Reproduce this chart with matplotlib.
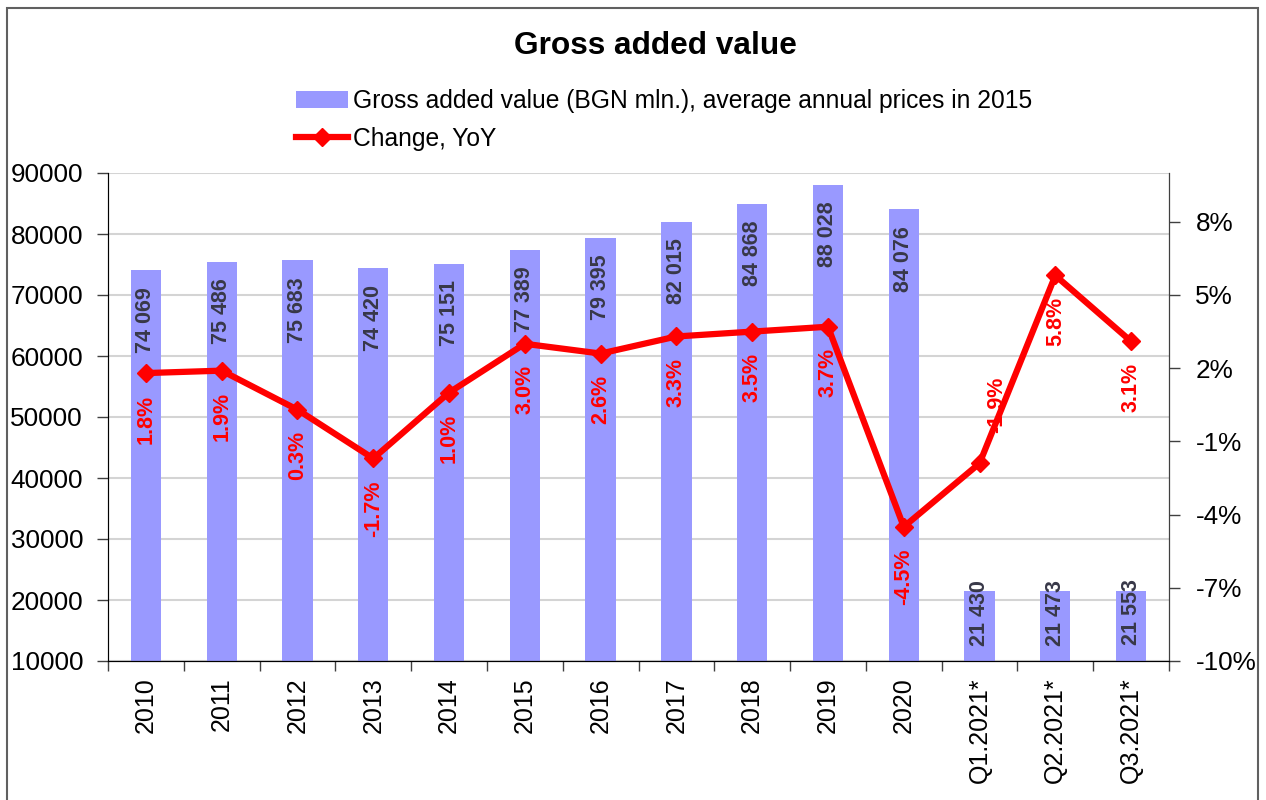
import matplotlib
matplotlib.use("Agg")
import matplotlib.pyplot as plt
from matplotlib.lines import Line2D
from matplotlib.patches import Patch, Rectangle
import numpy as np

plt.rcParams['font.family'] = ['Liberation Sans', 'DejaVu Sans']

categories = ["2010", "2011", "2012", "2013", "2014", "2015", "2016", "2017",
              "2018", "2019", "2020", "Q1.2021*", "Q2.2021*", "Q3.2021*"]
gva = [74069, 75486, 75683, 74420, 75151, 77389, 79395, 82015,
       84868, 88028, 84076, 21430, 21473, 21553]
gva_labels = ["74 069", "75 486", "75 683", "74 420", "75 151", "77 389", "79 395",
              "82 015", "84 868", "88 028", "84 076", "21 430", "21 473", "21 553"]
yoy = [1.8, 1.9, 0.3, -1.7, 1.0, 3.0, 2.6, 3.3, 3.5, 3.7, -4.5, -1.9, 5.8, 3.1]
yoy_labels = ["1.8%", "1.9%", "0.3%", "-1.7%", "1.0%", "3.0%", "2.6%", "3.3%",
              "3.5%", "3.7%", "-4.5%", "-1.9%", "5.8%", "3.1%"]
left_ticks = [10000, 20000, 30000, 40000, 50000, 60000, 70000, 80000, 90000]
right_ticks = [-10, -7, -4, -1, 2, 5, 8]

BAR_C = "#9999FF"
LINE_C = "#FF0000"

fig = plt.figure(figsize=(12.66, 8.0), dpi=100)
ax = fig.add_axes([108/1266, 1-661/800, (1169-108)/1266, (661-173)/800])
ax2 = ax.twinx()

x = np.arange(len(categories))
ax.bar(x, gva, width=0.4, color=BAR_C, zorder=2)
ax.set_ylim(10000, 90000)
ax.set_xlim(-0.5, len(categories) - 0.5)
ax.set_yticks(left_ticks)
ax.set_yticklabels([str(v) for v in left_ticks], fontsize=18.8)
ax.yaxis.grid(True, color="#D4D4D4", linewidth=1.5, zorder=0)
ax.set_axisbelow(True)
ax.tick_params(axis='y', direction='out', length=8, width=1, pad=10, colors='#404040', labelcolor='black')

ax.set_xticks(x)
ax.set_xticklabels(categories, rotation=90, fontsize=18)
ax.tick_params(axis='x', which='major', length=0, pad=12)
ax.set_xticks(np.arange(-0.5, len(categories), 1.0), minor=True)
ax.tick_params(axis='x', which='minor', direction='out', length=7, width=1, color='#404040')

for s in ['top']:
    ax.spines[s].set_visible(False)
    ax2.spines[s].set_visible(False)
ax.spines['left'].set_color('#404040')
ax2.spines['right'].set_color('#404040')
ax.spines['bottom'].set_color('black')
ax.spines['bottom'].set_zorder(5)

for i, (v, lab) in enumerate(zip(gva, gva_labels)):
    off = 8 if v < 30000 else -12
    ax.annotate(lab, (i, v), xytext=(0, off), textcoords='offset points',
                rotation=90, ha='center', va='top', fontsize=15.5, fontweight='bold',
                color='#383848', zorder=4)

ax2.plot(x, yoy, color=LINE_C, linewidth=4.5, marker='D', markersize=9.5,
         markeredgecolor=LINE_C, zorder=6)
ax2.set_ylim(-10, 10)
ax2.set_yticks(right_ticks)
ax2.set_yticklabels([f"{v}%" for v in right_ticks], fontsize=18.8)
ax2.tick_params(axis='y', direction='out', length=8, width=1, pad=11, colors='#404040', labelcolor='black')
ax.set_zorder(1)
ax2.set_zorder(2)
ax2.patch.set_visible(False)

for i, (v, lab) in enumerate(zip(yoy, yoy_labels)):
    if lab == "-1.9%":
        ax2.annotate(lab, (i, v), xytext=(12, 22), textcoords='offset points',
                     rotation=90, ha='center', va='bottom', fontsize=15.5,
                     fontweight='bold', color=LINE_C, zorder=3)
    else:
        ax2.annotate(lab, (i, v), xytext=(0, -15.5), textcoords='offset points',
                     rotation=90, ha='center', va='top', fontsize=15.5,
                     fontweight='bold', color=LINE_C, zorder=3)

fig.text(655/1266, 1-46/800, "Gross added value", ha='center', va='center',
         fontsize=22.8, fontweight='bold')

handles = [Patch(facecolor=BAR_C, edgecolor='none'),
           Line2D([0], [0], color=LINE_C, linewidth=4.5, marker='D', markersize=9.5)]
fig.legend(handles, ["Gross added value (BGN mln.), average annual prices in 2015",
                     "Change, YoY"],
           loc='center left', bbox_to_anchor=(296/1266, 1-120/800), frameon=False,
           fontsize=17.7, handlelength=2.1, handleheight=0.7, handletextpad=0.2,
           borderpad=0, borderaxespad=0, labelspacing=0.57)

fig.patches.append(Rectangle((7/1266, -0.01), (1258-7)/1266, 1.0 - 8/800 + 0.01,
                             transform=fig.transFigure, fill=False,
                             edgecolor='#606060', linewidth=1.5))

fig.savefig("out.png", dpi=100)
